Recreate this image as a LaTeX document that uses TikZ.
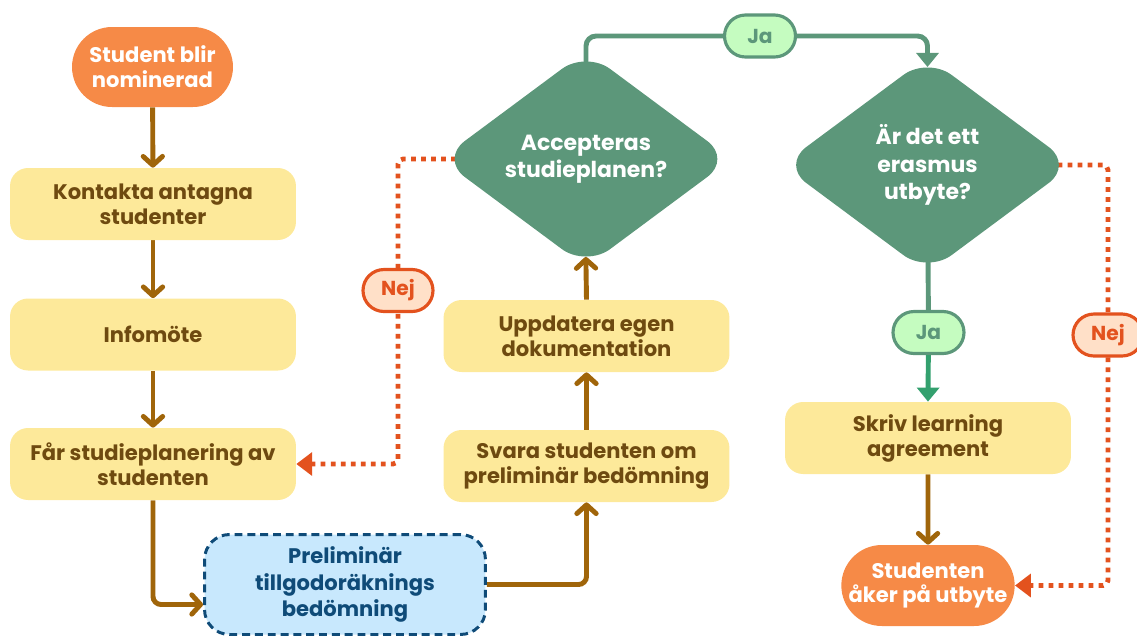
\documentclass[tikz,border=0pt]{standalone}
\usepackage{fontspec}
\setmainfont{Poppins}
\usetikzlibrary{shapes.geometric,shapes.misc,arrows.meta,calc}
\pgfdeclarelayer{bg}
\pgfsetlayers{bg,main}

\definecolor{pillorange}{HTML}{F68A47}
\definecolor{boxyellow}{HTML}{FDE99A}
\definecolor{boxtext}{HTML}{6E4A10}
\definecolor{flowbrown}{HTML}{A0650A}
\definecolor{bluefill}{HTML}{C8E8FD}
\definecolor{bluedark}{HTML}{0F4B78}
\definecolor{decgreen}{HTML}{5C977A}
\definecolor{jafill}{HTML}{C5FCC0}
\definecolor{yesgreen}{HTML}{33A06E}
\definecolor{nejred}{HTML}{E3521E}
\definecolor{nejfill}{HTML}{FFE0C8}

\tikzset{
  basefont/.style={font=\fontsize{12}{14.2}\selectfont\bfseries},
  stepbox/.style={rectangle, rounded corners=0.36cm, fill=boxyellow, text=boxtext,
    basefont, align=center, minimum width=5.72cm, minimum height=1.44cm, inner sep=0pt},
  terminal/.style={rounded rectangle, fill=pillorange, text=white, basefont,
    align=center, minimum width=3.22cm, minimum height=1.6cm, inner sep=0pt},
  prelimbox/.style={rectangle, rounded corners=0.5cm, fill=bluefill, draw=bluedark,
    line width=1.7pt, dash pattern=on 4.5pt off 2.8pt, text=bluedark,
    font=\fontsize{12}{15}\selectfont\bfseries,
    align=center, minimum width=5.62cm, minimum height=2.0cm, inner sep=0pt},
  decision/.style={diamond, aspect=1.35, fill=decgreen, text=white, rounded corners=0.6cm,
    font=\fontsize{12.5}{15.6}\selectfont\bfseries, align=center,
    minimum width=5.82cm, minimum height=4.32cm, inner sep=0pt, outer sep=0pt},
  jatag/.style={rounded rectangle, fill=jafill, draw=decgreen, line width=1.8pt,
    text=decgreen, font=\fontsize{11.5}{13}\selectfont\bfseries,
    minimum width=1.42cm, minimum height=0.84cm, inner sep=0pt},
  nejtag/.style={rounded rectangle, fill=nejfill, draw=nejred, line width=1.8pt,
    text=nejred, font=\fontsize{11.5}{13}\selectfont\bfseries,
    minimum width=1.40cm, minimum height=0.84cm, inner sep=0pt},
  flow/.style={draw=flowbrown, line width=2.8pt,
    -{Straight Barb[length=5pt, width=11pt, round]}},
  yesline/.style={draw=decgreen, line width=2.8pt},
  yestip/.style={-{Triangle[length=8pt, width=12.5pt]}},
  nojump/.style={draw=nejred, line width=2.7pt, dash pattern=on 2.7pt off 3.0pt,
    rounded corners=0.1cm, -{Triangle[length=9pt, width=13pt]}},
}

\begin{document}
\begin{tikzpicture}[x=0.02cm, y=-0.02cm]
\useasboundingbox (0,0) rectangle (1137,637);

% left column
\node[terminal] (start) at (152.5,67) {Student blir\\nominerad};
\node[stepbox] (kontakta) at (153,204) {Kontakta antagna\\studenter};
\node[stepbox] (info) at (153,334.5) {Infomöte};
\node[stepbox] (far) at (153,464) {Får studieplanering av\\studenten};
\node[prelimbox] (prelim) at (345,584.5) {Preliminär\\tillgodoräknings\\bedömning};

% middle column
\node[stepbox] (svara) at (586.5,466) {Svara studenten om\\preliminär bedömning};
\node[stepbox] (uppd) at (586.5,336) {Uppdatera egen\\dokumentation};
\node[decision] (acc) at (586,159) {Accepteras\\studieplanen?};

% right column
\node[decision] (erasmus) at (927.5,165) {Är det ett\\erasmus\\utbyte?};
\node[stepbox] (skriv) at (928,438) {Skriv learning\\agreement};
\node[terminal, minimum width=3.2cm, minimum height=1.62cm] (utbyte) at (928,585.5) {Studenten\\åker på utbyte};

% answer tags
\node[jatag] (ja1) at (760,36) {Ja};
\node[jatag] (ja2) at (928.5,332.5) {Ja};
\node[nejtag] (nej1) at (398,290.5) {Nej};
\node[nejtag] (nej2) at (1108,335) {Nej};

\begin{pgfonlayer}{bg}
  % main flow; the diamond anchors sit at the sharp corners, beyond the rounded tips
  \draw[flow] (start) -- (kontakta);
  \draw[flow] (kontakta) -- (info);
  \draw[flow] (info) -- (far);
  \draw[flow, rounded corners=0.16cm] (far.south) |- ([yshift=-0.4cm]prelim.west);
  \draw[flow, rounded corners=0.16cm] (prelim.east) -| (svara.south);
  \draw[flow] (svara) -- (uppd);
  \draw[flow, shorten >=-0.2cm] (uppd.north) -- (acc.south);
  \draw[flow] (skriv) -- (utbyte);

  % yes branches
  \draw[yesline, yestip, rounded corners=0.2cm, shorten >=-0.2cm]
    (acc.center) |- (ja1.center) -| (erasmus.north);
  \draw[yesline] (erasmus.center) -- (ja2.center);
  \draw[yesline, draw=yesgreen, fill=yesgreen, yestip]
    (ja2.center) -- (skriv.north);

  % no branches
  \draw[nojump] (acc.center) -| (nej1.center) |- (far.east);
  \draw[nojump] (erasmus.center) -| (nej2.center) |- (utbyte.east);
\end{pgfonlayer}
\end{tikzpicture}
\end{document}
